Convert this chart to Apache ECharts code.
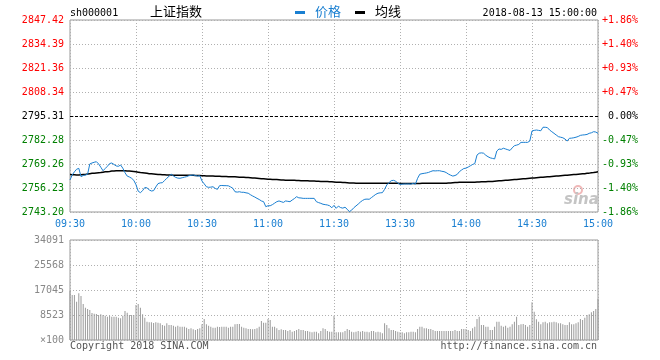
<!DOCTYPE html>
<html><head><meta charset="utf-8">
<script src="https://cdn.jsdelivr.net/npm/echarts@6/dist/echarts.min.js"></script>
<style>html,body{margin:0;padding:0;background:#fff}#c{width:660px;height:360px}</style>
</head><body><div id="c"></div>
<script>
const prevClose = 2795.31;
const priceMin = 2743.20, priceMax = 2847.42;
const priceTicks = ['2743.20','2756.23','2769.26','2782.28','2795.31','2808.34','2821.36','2834.39','2847.42'];
const pctTicks = ['-1.86%','-1.40%','-0.93%','-0.47%','0.00%','+0.47%','+0.93%','+1.40%','+1.86%'];
const volMax = 34091;
const volTicks = ['×100','8523','17045','25568','34091'];
const timeTickLabels = ['09:30','10:00','10:30','11:00','11:30','13:30','14:00','14:30','15:00'];

const priceAM = [
2760.6,2763.3,2765.0,2766.4,2766.9,2762.4,2763.0,2763.3,2763.7,2769.3,
2769.8,2770.2,2770.5,2769.3,2767.5,2765.6,2766.8,2768.0,2769.5,2769.8,
2769.0,2768.2,2768.0,2768.7,2767.0,2764.5,2762.7,2762.2,2761.5,2760.4,
2758.0,2754.5,2753.7,2754.8,2756.5,2756.3,2755.2,2754.6,2754.8,2756.8,
2758.6,2759.0,2759.1,2760.3,2761.5,2762.6,2763.7,2762.8,2762.0,2761.6,
2761.5,2761.8,2762.1,2762.4,2762.9,2763.1,2763.3,2763.0,2762.7,2762.9,
2760.0,2758.5,2756.9,2756.6,2756.7,2756.9,2756.0,2755.5,2757.5,2757.6,
2757.5,2757.5,2757.4,2756.8,2756.1,2754.2,2754.0,2754.2,2753.9,2753.9,
2753.6,2753.4,2752.6,2751.9,2751.3,2750.6,2750.0,2749.2,2748.8,2746.1,
2746.6,2746.6,2747.2,2748.0,2748.8,2749.2,2748.8,2748.4,2749.2,2749.0,
2748.8,2749.7,2750.5,2751.5,2750.9,2750.8,2750.6,2750.6,2750.6,2750.6,
2750.6,2750.6,2748.8,2748.3,2747.9,2747.4,2747.2,2747.0,2746.6,2745.5,
2746.8];
const pricePM = [
2745.2,2746.4,2745.6,2745.3,2745.8,2744.7,2743.4,2744.2,2745.5,2746.5,
2747.5,2748.6,2749.5,2750.1,2750.2,2750.1,2751.0,2751.9,2752.8,2753.4,
2753.6,2753.7,2755.5,2757.9,2759.1,2760.2,2760.4,2760.0,2758.8,2758.2,
2758.3,2758.4,2758.4,2758.4,2758.3,2758.8,2758.3,2761.5,2763.7,2764.0,
2764.2,2764.4,2764.7,2765.2,2765.6,2765.5,2765.6,2765.6,2765.3,2765.1,
2764.6,2763.8,2763.2,2762.7,2763.0,2763.6,2765.1,2766.0,2766.8,2767.0,
2767.6,2768.3,2769.0,2769.5,2774.1,2775.1,2775.3,2775.1,2774.0,2773.2,
2772.6,2772.3,2772.0,2776.3,2777.4,2777.2,2777.8,2777.4,2777.0,2776.6,
2778.0,2779.2,2779.5,2779.9,2781.0,2781.0,2781.0,2781.0,2781.7,2787.2,
2787.5,2787.7,2787.5,2787.3,2789.2,2789.2,2789.0,2787.7,2786.8,2785.9,
2785.0,2784.1,2783.8,2783.5,2782.8,2781.7,2783.2,2783.3,2783.5,2783.8,
2784.2,2784.8,2785.0,2785.1,2785.3,2785.9,2786.2,2786.8,2786.6,2785.9];

const avgAM = [
2763.5,2763.4,2763.4,2763.3,2763.3,
2763.4,2763.5,2763.6,2763.8,
2764.0,2764.2,2764.3,2764.4,2764.5,2764.6,
2764.8,2765.0,2765.1,2765.2,2765.4,2765.5,
2765.6,2765.6,2765.6,2765.6,2765.6,2765.5,2765.4,
2765.3,2765.2,2765.0,
2764.8,2764.6,2764.5,2764.4,2764.2,
2764.0,2763.9,2763.8,2763.7,2763.6,
2763.5,2763.4,2763.4,2763.3,2763.3,2763.3,2763.2,2763.2,2763.2,2763.2,
2763.1,2763.1,2763.1,2763.1,2763.1,2763.1,2763.0,2763.0,2763.0,2762.9,
2762.9,2762.8,2762.8,2762.7,2762.7,
2762.6,2762.6,2762.6,2762.5,2762.5,2762.5,2762.4,2762.4,2762.4,2762.3,2762.2,
2762.1,2762.0,2762.0,2761.9,2761.9,2761.8,2761.7,2761.6,2761.5,
2761.4,2761.3,2761.2,2761.1,2761.0,
2761.0,2760.9,2760.9,2760.8,2760.7,2760.6,
2760.6,2760.5,2760.5,2760.5,2760.4,2760.4,2760.3,2760.3,2760.2,2760.2,2760.1,2760.1,
2760.0,2760.0,2760.0,2759.9,2759.9,2759.8,2759.8,2759.7,2759.7,2759.6,2759.6,2759.5];
const avgPM = [
2759.4,2759.3,2759.3,2759.2,2759.2,2759.1,2759.0,2759.0,2758.9,
2758.8,2758.8,2758.8,2758.8,2758.8,2758.8,2758.8,2758.8,2758.8,2758.8,
2758.8,2758.8,2758.8,2758.8,2758.8,2758.8,2758.8,2758.8,2758.8,2758.8,
2758.7,2758.7,2758.7,2758.7,2758.7,2758.7,2758.7,2758.7,2758.7,2758.7,
2758.8,2758.8,2758.8,2758.8,2758.8,2758.8,2758.8,2758.8,2758.8,2758.8,2758.8,2758.8,
2758.9,2759.0,2759.1,2759.2,2759.2,2759.3,2759.3,2759.3,2759.3,2759.3,2759.3,2759.4,2759.4,
2759.5,2759.5,2759.6,2759.6,2759.6,2759.7,2759.7,2759.8,2759.9,2760.0,
2760.1,2760.2,2760.3,2760.4,2760.5,2760.6,2760.7,
2760.8,2760.9,2761.0,2761.1,2761.2,2761.3,2761.4,2761.5,2761.6,
2761.7,2761.8,2761.9,2762.0,2762.1,2762.2,2762.3,
2762.4,2762.5,2762.6,2762.7,2762.8,
2762.9,2763.0,2763.1,2763.2,2763.3,2763.4,2763.5,2763.6,2763.7,2763.8,
2763.9,2764.0,2764.2,2764.3,2764.5,2764.6,2764.8,2765.0];

const volAM = [
16820,15340,15340,13070,15910,15000,12270,11020,10570,10230,
9200,8980,8860,8520,8750,8520,8300,7950,8300,7950,
7950,7950,7610,7390,8300,9890,9320,8520,8520,8520,
11930,12270,11020,8750,7610,6250,6020,6020,5800,6020,
5910,5680,5110,4890,5680,5110,5110,4890,4550,4890,
4550,4550,4550,4200,3750,3980,3640,3410,3750,3980,
5340,7160,5340,4890,4550,4200,4200,4550,4430,4550,
4550,4550,4200,4550,4550,5340,5450,5450,4550,4200,
3980,3750,3750,3640,3750,3980,4550,6480,5910,5910,
7160,6820,4550,4550,3980,3410,3640,3410,3410,3070,
3410,2840,3070,3410,3750,3410,3410,3070,3070,2840,
2610,2840,2840,2270,3070,3980,3750,3070,2840,2840,
8300];
const volPM = [
2610,2610,2610,2610,3070,3750,3410,2840,2610,2840,
3070,2840,3070,2840,2840,2610,3070,3070,2610,2840,
2610,2270,5680,5110,3980,3410,3410,3070,2840,2610,
2610,2270,2610,2610,2840,2840,2610,3750,4550,4550,
3980,3980,3750,3750,3410,3070,3070,3070,3070,3070,
3070,3070,3070,3070,3410,3070,3070,3750,3750,3750,
3410,3070,3980,4550,7160,7950,5110,5110,4550,4550,
3410,3410,4550,6250,6250,4890,4550,4890,4200,4550,
5340,6250,7950,5110,5340,5450,5110,4550,5110,12840,
9660,7050,6250,5340,6020,6250,5680,6020,6020,6250,
6020,5680,5680,5340,5110,5110,6020,5340,5340,5680,
6020,7160,6820,7610,8520,8750,9430,9890,10570,13980];

function hm(h, m) { return String(h).padStart(2,'0') + ':' + String(m).padStart(2,'0'); }
const times = [];
for (let i = 0; i <= 120; i++) { const t = 9*60+30+i; times.push(hm(Math.floor(t/60), t%60)); }
for (let i = 1; i <= 120; i++) { const t = 13*60+i; times.push(hm(Math.floor(t/60), t%60)); }

const prices = priceAM.concat(pricePM);
const avgs = avgAM.concat(avgPM);
const vols = volAM.concat(volPM);

const mono = 'DejaVu Sans Mono';
const tickFn = function (i) { return i % 30 === 0; };
function nearest(list, v) {
  let best = list[0], bd = Infinity;
  list.forEach(function (s) { const d = Math.abs(parseFloat(s.replace('×','')) - v); if (d < bd) { bd = d; best = s; } });
  return best;
}
function priceColor(v) {
  if (v > prevClose + 0.01) return '#ff0000';
  if (v < prevClose - 0.01) return '#008000';
  return '#000000';
}
const gridLine = { show: true, lineStyle: { color: '#b0b0b0', type: [1, 2], width: 1 } };

const chart = echarts.init(document.getElementById('c'), null, { renderer: 'canvas' });
chart.setOption({
  animation: false,
  backgroundColor: '#ffffff',
  grid: [
    { left: 70, top: 20, width: 528, height: 192, show: true, borderColor: '#999', borderWidth: 1 },
    { left: 70, top: 240, width: 528, height: 100, show: true, borderColor: '#999', borderWidth: 1 }
  ],
  xAxis: [
    { type: 'category', gridIndex: 0, data: times, boundaryGap: false,
      axisLine: { show: false }, axisTick: { show: false, interval: tickFn },
      axisLabel: { interval: tickFn, color: '#1a7fd1', fontFamily: mono, fontSize: 10, margin: 7,
        formatter: function (v) { return timeTickLabels.indexOf(v) >= 0 ? v : ''; } },
      splitLine: Object.assign({ interval: tickFn }, gridLine) },
    { type: 'category', gridIndex: 1, data: times, boundaryGap: false,
      axisLine: { show: false }, axisTick: { show: false, interval: tickFn },
      axisLabel: { show: false, interval: tickFn },
      splitLine: Object.assign({ interval: tickFn }, gridLine) }
  ],
  yAxis: [
    { type: 'value', gridIndex: 0, min: priceMin, max: priceMax, interval: (priceMax - priceMin) / 8, position: 'left',
      axisLine: { show: false }, axisTick: { show: false },
      axisLabel: { fontFamily: mono, fontSize: 10, margin: 6,
        formatter: function (v) { return nearest(priceTicks, v); },
        color: function (v) { return priceColor(Number(v)); } },
      splitLine: gridLine },
    { type: 'value', gridIndex: 0, min: priceMin, max: priceMax, interval: (priceMax - priceMin) / 8, position: 'right',
      axisLine: { show: false }, axisTick: { show: false }, splitLine: { show: false },
      axisLabel: { fontFamily: mono, fontSize: 10, margin: 40, align: 'right',
        formatter: function (v) { return pctTicks[priceTicks.indexOf(nearest(priceTicks, v))]; },
        color: function (v) { return priceColor(Number(v)); } } },
    { type: 'value', gridIndex: 1, min: 0, max: volMax, interval: volMax / 4,
      axisLine: { show: false }, axisTick: { show: false },
      axisLabel: { fontFamily: mono, fontSize: 10, margin: 6, color: '#888',
        formatter: function (v) { return nearest(volTicks.map(function(s){return s==='×100'?'0':s;}), v) === '0' ? '×100' : nearest(volTicks.slice(1), v); } },
      splitLine: gridLine }
  ],
  series: [
    { name: '价格', type: 'line', xAxisIndex: 0, yAxisIndex: 0, data: prices, symbol: 'none',
      lineStyle: { color: '#1a7fd1', width: 1 }, itemStyle: { color: '#1a7fd1' }, z: 4,
      markLine: { silent: true, symbol: ['none', 'none'], label: { show: false },
        lineStyle: { color: '#000', type: [3, 2], width: 1 }, data: [{ yAxis: prevClose }] } },
    { name: '均线', type: 'line', xAxisIndex: 0, yAxisIndex: 0, data: avgs, symbol: 'none',
      lineStyle: { color: '#000', width: 1.5 }, itemStyle: { color: '#000' }, z: 3 },
    { name: '成交量', type: 'bar', xAxisIndex: 1, yAxisIndex: 2, data: vols, barWidth: 1,
      itemStyle: { color: '#9a9a9a' } }
  ],
  graphic: [
    { type: 'text', left: 70, top: 8, style: { text: 'sh000001', font: '10px "DejaVu Sans Mono"', fill: '#000' } },
    { type: 'text', left: 150, top: 5, style: { text: '上证指数', font: '13px "Noto Sans CJK SC"', fill: '#000' } },
    { type: 'rect', shape: { x: 295, y: 11, width: 10, height: 3 }, style: { fill: '#1a7fd1' } },
    { type: 'text', left: 315, top: 5, style: { text: '价格', font: '13px "Noto Sans CJK SC"', fill: '#1a7fd1' } },
    { type: 'rect', shape: { x: 355, y: 11, width: 10, height: 3 }, style: { fill: '#000' } },
    { type: 'text', left: 375, top: 5, style: { text: '均线', font: '13px "Noto Sans CJK SC"', fill: '#000' } },
    { type: 'text', right: 63, top: 8, style: { text: '2018-08-13 15:00:00', font: '10px "DejaVu Sans Mono"', fill: '#000' } },
    { type: 'text', left: 70, top: 341, style: { text: 'Copyright 2018 SINA.COM', font: '10px "DejaVu Sans Mono"', fill: '#555' } },
    { type: 'text', right: 63, top: 341, style: { text: 'http://finance.sina.com.cn', font: '10px "DejaVu Sans Mono"', fill: '#555' } },
    { type: 'circle', shape: { cx: 578, cy: 190, r: 4 }, style: { fill: 'none', stroke: '#f0b8b8', lineWidth: 2 } },
    { type: 'text', left: 564, top: 193, style: { text: 'sina', font: 'italic bold 15px "DejaVu Sans"', fill: '#c4c4c4' } }
  ]
});
</script></body></html>
